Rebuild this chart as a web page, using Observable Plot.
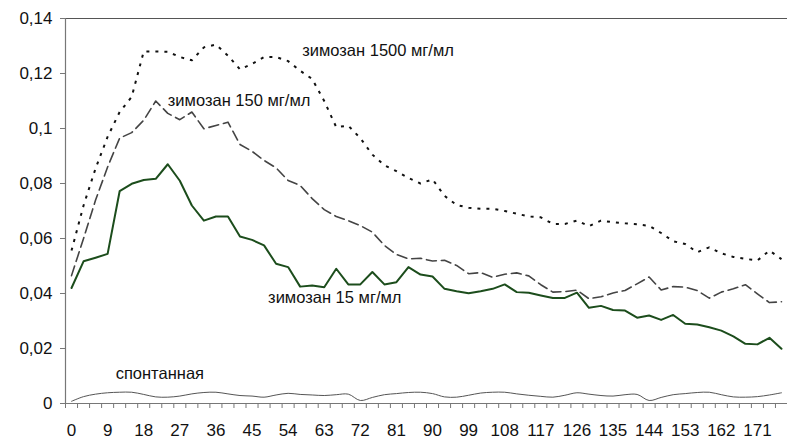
<!DOCTYPE html>
<html>
<head>
<meta charset="utf-8">
<script src="https://cdn.jsdelivr.net/npm/d3@7"></script>
<script src="https://cdn.jsdelivr.net/npm/@observablehq/plot@0.6"></script>
<style>
  html, body { margin: 0; padding: 0; background: #fff; }
  #chart { width: 787px; height: 441px; }
  svg { display: block; }
</style>
</head>
<body>
<div id="chart"></div>
<script>
// time points (min), one every 3 min
const times = d3.range(0, 180, 3);
const tickLabels = [0, 9, 18, 27, 36, 45, 54, 63, 72, 81, 90, 99, 108, 117, 126, 135, 144, 153, 162, 171];
const yTicks = [0, 0.02, 0.04, 0.06, 0.08, 0.1, 0.12, 0.14];

// зимозан 1500 мг/мл (dotted)
const z1500 = [0.0556, 0.072, 0.0855, 0.097, 0.106, 0.1115, 0.128, 0.128, 0.1279, 0.126,
  0.1248, 0.1295, 0.1305, 0.1265, 0.1215, 0.1235, 0.126, 0.126, 0.1245, 0.121,
  0.118, 0.110, 0.1005, 0.101, 0.0965, 0.0905, 0.0866, 0.0845, 0.082, 0.080,
  0.0815, 0.0755, 0.0722, 0.0712, 0.0708, 0.0708, 0.0700, 0.0690, 0.068, 0.0677,
  0.0653, 0.0653, 0.0665, 0.0645, 0.0665, 0.0659, 0.0655, 0.0652, 0.0646, 0.062,
  0.059, 0.058, 0.055, 0.0568, 0.0546, 0.0533, 0.0526, 0.052, 0.0556, 0.0525];
// зимозан 150 мг/мл (dashed)
const z150 = [0.0465, 0.060, 0.074, 0.086, 0.0965, 0.0985, 0.103, 0.110, 0.1055, 0.1032,
  0.106, 0.0999, 0.1011, 0.1023, 0.0942, 0.0917, 0.0884, 0.0857, 0.0811, 0.0793,
  0.0745, 0.0705, 0.068, 0.0665, 0.0647, 0.0623, 0.0575, 0.0542, 0.0526, 0.0528,
  0.0518, 0.0521, 0.0502, 0.0472, 0.0476, 0.0459, 0.047, 0.0475, 0.0464, 0.0432,
  0.0405, 0.0407, 0.0412, 0.0381, 0.0388, 0.0402, 0.0411, 0.0435, 0.046, 0.0413,
  0.0425, 0.0423, 0.0411, 0.0383, 0.0405, 0.0417, 0.0432, 0.0399, 0.0367, 0.037];
// зимозан 15 мг/мл (solid green)
const z15 = [0.042, 0.0517, 0.053, 0.0544, 0.0772, 0.0799, 0.0813, 0.0817, 0.087, 0.081,
  0.072, 0.0665, 0.068, 0.068, 0.0607, 0.0595, 0.0575, 0.0508, 0.0496, 0.0425,
  0.0429, 0.0423, 0.049, 0.0433, 0.0433, 0.0478, 0.0433, 0.0441, 0.0496, 0.0469,
  0.0462, 0.0417, 0.0408, 0.0401, 0.0408, 0.0417, 0.0433, 0.0405, 0.0403, 0.0393,
  0.0384, 0.0384, 0.0403, 0.0348, 0.0355, 0.034, 0.0338, 0.0312, 0.032, 0.0304,
  0.0322, 0.029, 0.0287, 0.0277, 0.0265, 0.0244, 0.0217, 0.0215, 0.0239, 0.0199];
// спонтанная (thin gray, smoothed)
const spont = [0.0008, 0.0025, 0.0034, 0.0039, 0.0041, 0.0041, 0.0033, 0.0024, 0.0023, 0.0027,
  0.0035, 0.0040, 0.0041, 0.0035, 0.0029, 0.0027, 0.0023, 0.0031, 0.0037, 0.0033,
  0.0031, 0.0029, 0.0032, 0.0034, 0.0011, 0.0022, 0.0032, 0.0036, 0.0040, 0.0041,
  0.0036, 0.0024, 0.0023, 0.0030, 0.0038, 0.0041, 0.0041, 0.0035, 0.0030, 0.0026,
  0.0023, 0.0030, 0.0039, 0.0034, 0.0029, 0.0027, 0.0032, 0.0033, 0.0011, 0.0022,
  0.0032, 0.0036, 0.0040, 0.0041, 0.0032, 0.0024, 0.0023, 0.0025, 0.0031, 0.0039];

// annotation labels (data coordinates)
const labelText = ["зимозан 1500 мг/мл", "зимозан 150 мг/мл", "зимозан 15 мг/мл", "спонтанная"];
const labelX = [57.5, 24, 49, 11];
const labelY = [0.1284, 0.1102, 0.0385, 0.0109];

const rows = (vals) => times.map((t, i) => ({t, v: vals[i]}));
const bounds = times.map(t => t - 1.5).concat([times[times.length - 1] + 1.5]);
const labels = labelText.map((s, i) => ({s, x: labelX[i], y: labelY[i]}));
const fmt = d => String(d).replace(".", ",");
const font = "Liberation Sans, Arial, sans-serif";

const chart = Plot.plot({
  width: 787,
  height: 441,
  marginLeft: 65,
  marginRight: 0,
  marginTop: 18,
  marginBottom: 38,
  style: {fontFamily: font, color: "#111", background: "#fff"},
  x: {domain: [-1.5, 178.5]},
  y: {domain: [0, 0.14]},
  marks: [
    Plot.ruleY([0.14], {stroke: "#555", strokeWidth: 1.2}),
    Plot.ruleY([0], {stroke: "#777", strokeWidth: 1.2}),
    Plot.ruleX([-1.5], {stroke: "#777", strokeWidth: 1.2}),
    Plot.axisY({ticks: yTicks, tickSize: 5, tickPadding: 8, tickFormat: fmt, fontSize: 17, stroke: "#777", label: null}),
    Plot.axisX({ticks: bounds, tickSize: 5, tickFormat: () => "", stroke: "#777", label: null}),
    Plot.axisX({ticks: tickLabels, tickSize: 0, tickPadding: 20, fontSize: 17, label: null}),
    Plot.line(rows(spont), {x: "t", y: "v", stroke: "#555", strokeWidth: 1, curve: "catmull-rom"}),
    Plot.line(rows(z1500), {x: "t", y: "v", stroke: "#111", strokeWidth: 2, strokeDasharray: "3,6", strokeLinecap: "butt"}),
    Plot.line(rows(z150), {x: "t", y: "v", stroke: "#444", strokeWidth: 1.6, strokeDasharray: "10,5"}),
    Plot.line(rows(z15), {x: "t", y: "v", stroke: "#1c4d1c", strokeWidth: 2}),
    Plot.text(labels, {x: "x", y: "y", text: "s", textAnchor: "start", fontSize: 16.5, fill: "#111"})
  ]
});
document.getElementById("chart").appendChild(chart);
</script>
</body>
</html>
